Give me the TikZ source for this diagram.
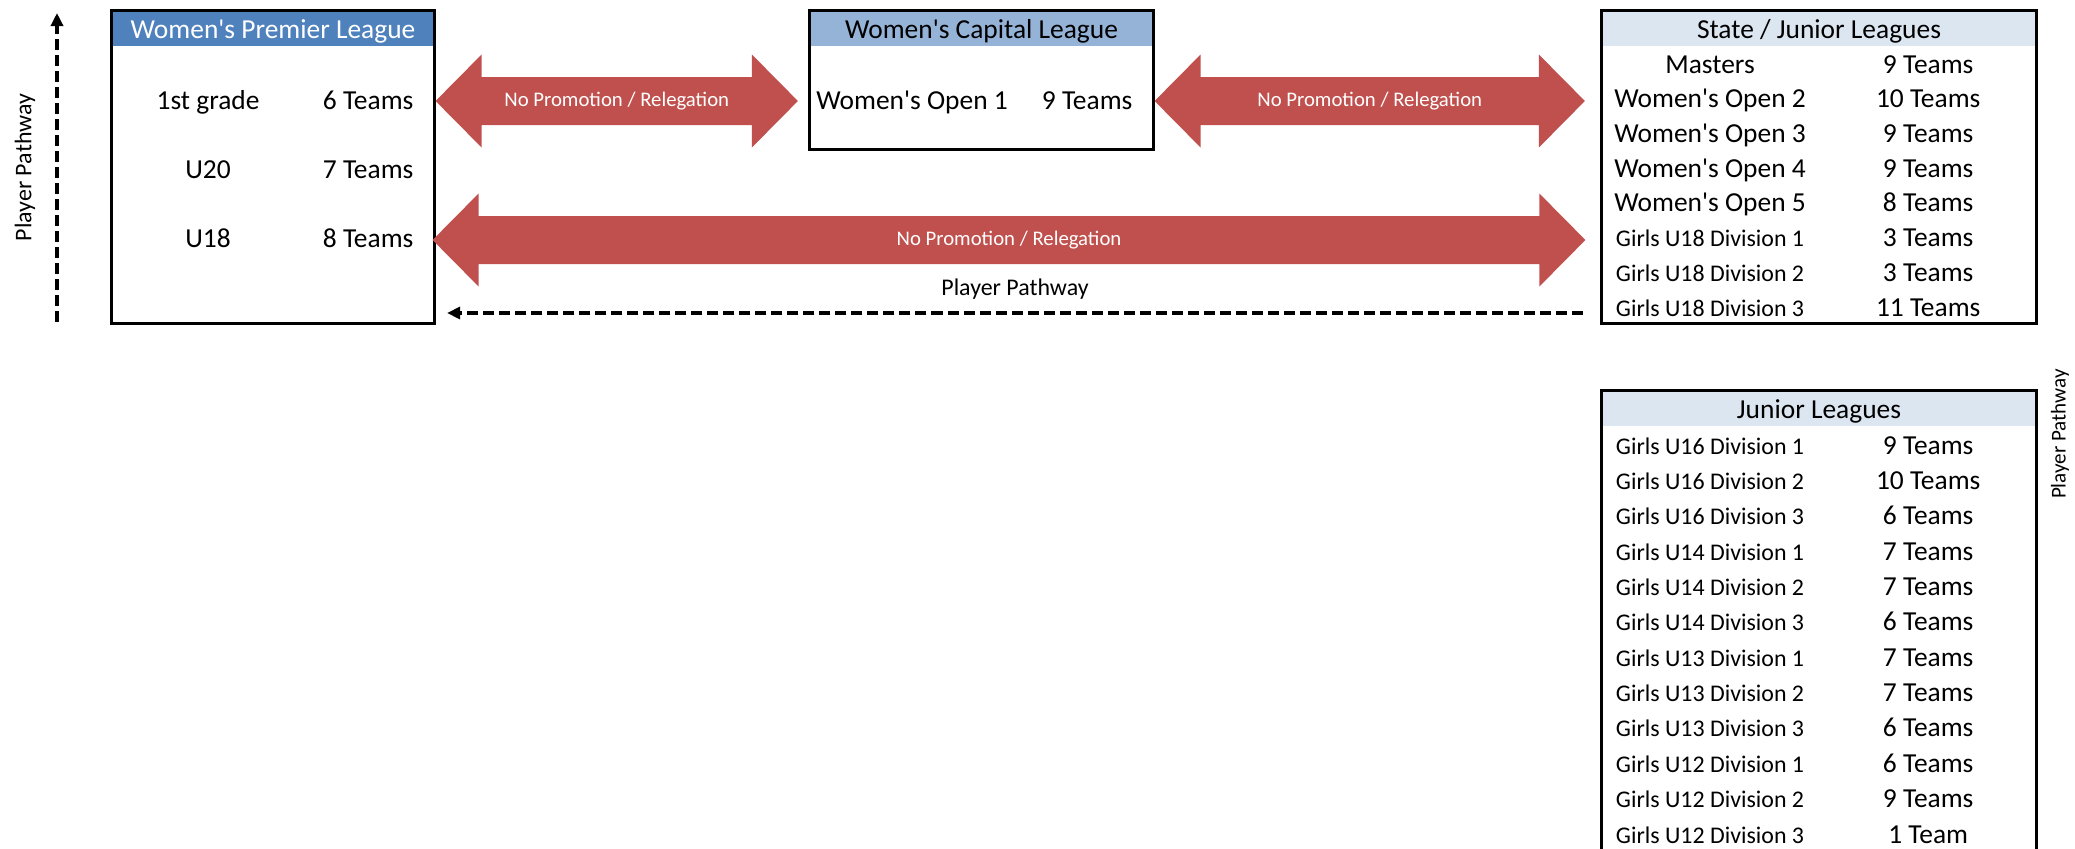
\documentclass[tikz,border=0pt]{standalone}
\usepackage{fontspec}
\setmainfont{Carlito}[Ligatures=TeXOff]
\usepackage{xcolor}
\usepackage{tikz}
\usetikzlibrary{calc, positioning, arrows.meta, matrix}

\definecolor{premblue}{HTML}{4F81BD}
\definecolor{capblue}{HTML}{95B3D7}
\definecolor{statebg}{HTML}{DCE6F1}
\definecolor{promored}{HTML}{C0504D}

\tikzset{
    leaguebox/.style={
        rectangle, draw=black, line width=0.03cm, inner sep=0pt,
        path picture={\fill[#1] (path picture bounding box.north west) rectangle ([yshift=-0.35cm]path picture bounding box.north east);}
    },
    headtext/.style={inner sep=0pt, outer sep=0pt, minimum height=0.36cm, text height=0.25cm, text depth=0.02cm, font=\fontsize{7.8}{9.4}\selectfont},
    teams/.style={
        matrix of nodes,
        anchor=north west,
        inner sep=0pt,
        outer sep=0pt,
        column sep=0pt,
        nodes={inner sep=0pt, outer sep=0pt, anchor=center, text height=0.19cm, text depth=0.06cm, font=\fontsize{7.8}{9.4}\selectfont}
    },
    girls/.style={font=\fontsize{6.8}{8.2}\selectfont},
    promo/.style={fill=promored, to path={-- ($(\tikztostart)+(46,-46.5)$) -- ($(\tikztostart)+(46,-24)$) -- ($(\tikztotarget)+(-46,-24)$) -- ($(\tikztotarget)+(-46,-46.5)$) -- (\tikztotarget) -- ($(\tikztotarget)+(-46,46.5)$) -- ($(\tikztotarget)+(-46,24)$) -- ($(\tikztostart)+(46,24)$) -- ($(\tikztostart)+(46,46.5)$) -- cycle}},
    promotext/.style={text=white, inner sep=0pt, font=\fontsize{5.9}{7}\selectfont},
    pathway/.style={draw=black, line width=0.035cm, dash pattern=on 0.11cm off 0.05cm, -{Triangle[length=0.13cm, width=0.12cm]}},
    pathtext/.style={inner sep=0pt, font=\fontsize{6.8}{8.2}\selectfont}
}

\begin{document}
\begin{tikzpicture}[x=0.01cm, y=-0.01cm]
    \useasboundingbox (0,0) rectangle (2075,848);

    % League boxes
    \node[leaguebox=premblue, minimum width=3.22cm, minimum height=3.12cm] (prem) at (273,167) {};
    \node[leaguebox=capblue, minimum width=3.43cm, minimum height=1.38cm] (cap) at (981.5,80) {};
    \node[leaguebox=statebg, minimum width=4.34cm, minimum height=3.12cm] (state) at (1819,167) {};
    \node[leaguebox=statebg, minimum width=4.34cm, minimum height=5.2cm] (junior) at (1819,651) {};

    % Headers
    \node[headtext, text=white, below=0pt of prem.north] (premhead) {Women's Premier League};
    \node[headtext, below=0pt of cap.north] (caphead) {Women's Capital League};
    \node[headtext, below=0pt of state.north] (statehead) {State / Junior Leagues};
    \node[headtext, below=0pt of junior.north] (juniorhead) {Junior Leagues};

    % Divisions
    \matrix[teams, row sep=0.44cm, column 1/.style={nodes={minimum width=1.92cm}}, column 2/.style={nodes={minimum width=1.28cm}}] (premrows) at (112,90) {
        1st grade & 6 Teams \\
        U20 & 7 Teams \\
        U18 & 8 Teams \\
    };
    \matrix[teams, column 1/.style={nodes={minimum width=2.04cm}}, column 2/.style={nodes={minimum width=1.46cm}}] (caprows) at (810,90) {
        Women's Open 1 & 9 Teams \\
    };
    \matrix[teams, row sep=0.097cm, column 1/.style={nodes={minimum width=2.16cm}}, column 2/.style={nodes={minimum width=2.2cm}}] (staterows) at (1602,54) {
        Masters & 9 Teams \\
        Women's Open 2 & 10 Teams \\
        Women's Open 3 & 9 Teams \\
        Women's Open 4 & 9 Teams \\
        Women's Open 5 & 8 Teams \\
        |[girls]| Girls U18 Division 1 & 3 Teams \\
        |[girls]| Girls U18 Division 2 & 3 Teams \\
        |[girls]| Girls U18 Division 3 & 11 Teams \\
    };
    \matrix[teams, row sep=0.1035cm, column 1/.style={nodes={minimum width=2.16cm, girls}}, column 2/.style={nodes={minimum width=2.2cm}}] (juniorrows) at (1602,435) {
        Girls U16 Division 1 & 9 Teams \\
        Girls U16 Division 2 & 10 Teams \\
        Girls U16 Division 3 & 6 Teams \\
        Girls U14 Division 1 & 7 Teams \\
        Girls U14 Division 2 & 7 Teams \\
        Girls U14 Division 3 & 6 Teams \\
        Girls U13 Division 1 & 7 Teams \\
        Girls U13 Division 2 & 7 Teams \\
        Girls U13 Division 3 & 6 Teams \\
        Girls U12 Division 1 & 6 Teams \\
        Girls U12 Division 2 & 9 Teams \\
        Girls U12 Division 3 & 1 Team \\
    };

    % No promotion / relegation
    \coordinate (lvl1) at (0,101);
    \coordinate (lvl2) at (0,240);
    \coordinate (lvl3) at (0,313);
    \coordinate (nprl) at (prem.east |- lvl1);
    \coordinate (nprr) at ($(cap.west |- lvl1)+(-10.5,0)$);
    \coordinate (ncsl) at (cap.east |- lvl1);
    \coordinate (ncsr) at ($(state.west |- lvl1)+(-15.5,0)$);
    \coordinate (npsl) at ($(prem.east |- lvl2)+(-3,0)$);
    \coordinate (npsr) at ($(state.west |- lvl2)+(-15,0)$);
    \path[promo] (nprl) to (nprr);
    \path[promo] (ncsl) to (ncsr);
    \path[promo] (npsl) to (npsr);
    \node[promotext] (nopr) at ($(nprl)!0.5!(nprr)$) {No Promotion / Relegation};
    \node[promotext] (nocs) at ($(ncsl)!0.5!(ncsr)$) {No Promotion / Relegation};
    \node[promotext] (nops) at ($(npsl)!0.5!(npsr)$) {No Promotion / Relegation};

    % Player pathway
    \draw[pathway] ($(state.west |- lvl3)+(-17.5,0)$) -- ($(prem.east |- lvl3)+(11.5,0)$) node[midway, above=0.12cm, pathtext] {Player Pathway};
    \coordinate (pwbot) at (57,322);
    \coordinate (pwtop) at (57,13);
    \draw[pathway] (pwbot) -- (pwtop) node[midway, sloped, above=0.2cm, pathtext] {Player Pathway};
    \node[pathtext, font=\fontsize{6}{7}\selectfont, rotate=90] (pwright) at (2060,434) {Player Pathway};
\end{tikzpicture}
\end{document}
